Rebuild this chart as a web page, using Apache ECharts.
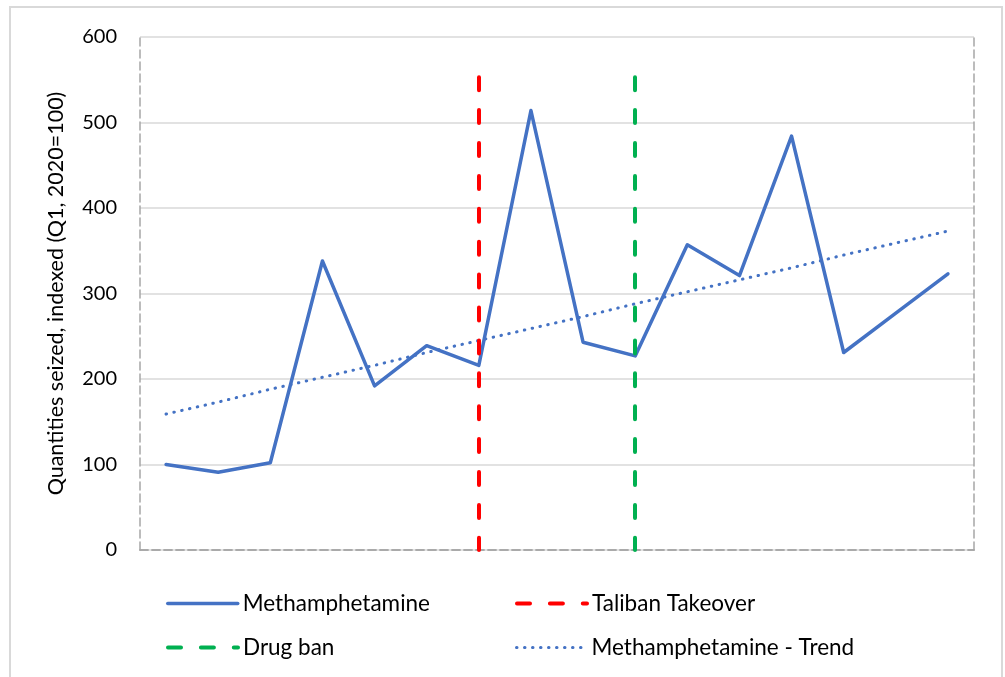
<!DOCTYPE html>
<html lang="en">
<head>
  <meta charset="UTF-8">
  <title>Methamphetamine seizures</title>
  <style>
    html,body{margin:0;padding:0;background:#fff;}
    #main{width:1005px;height:677px;}
  </style>
</head>
<body>
  <div id="main"></div>
  <script src="https://cdn.jsdelivr.net/npm/echarts@6/dist/echarts.min.js"></script>
  <script>
    const quarters=['Q1 2020','Q2 2020','Q3 2020','Q4 2020','Q1 2021','Q2 2021','Q3 2021','Q4 2021',
      'Q1 2022','Q2 2022','Q3 2022','Q4 2022','Q1 2023','Q2 2023','Q3 2023','Q4 2023'];
    const meth=[100,91,102,338,192,239,216,514,243,227,357,321,484,231,277,323];
    const trend=[159,173,188,202,216,231,245,259,273,288,302,316,330,345,359,373];
    const talibanAt='Q3 2021';
    const drugBanAt='Q2 2022';
    const eventTop=553;
    const yTicks=[0,100,200,300,400,500,600];

    const font='Lato, "Liberation Sans", sans-serif';
    const dashedFrame={show:true,lineStyle:{color:'#A6A6A6',width:1.5,type:[8,4]}};

    const methStyle={color:'#4472C4',width:3.5,cap:'round',join:'round'};
    const trendStyle={color:'#4472C4',width:3,type:[0.5,7.5],cap:'round'};
    const redStyle={color:'#FF0000',width:4,type:[13,19.9],cap:'round'};
    const greenStyle={color:'#00B050',width:4,type:[13,19.9],cap:'round'};

    const chart=echarts.init(document.getElementById('main'));

    // vertical event line as a markLine on an empty series (drawn top -> bottom)
    function eventSeries(name,at,style){
      return {
        name:name,
        type:'line',
        data:[],
        symbol:'none',
        lineStyle:style,
        itemStyle:{color:style.color},
        markLine:{
          silent:true,
          symbol:'none',
          label:{show:false},
          lineStyle:style,
          data:[[{coord:[at,eventTop]},{coord:[at,0]}]]
        }
      };
    }

    function legendAt(name,left,top,style){
      return {
        data:[name],
        left:left,
        top:top,
        itemWidth:70,
        itemHeight:14,
        lineStyle:style,
        itemStyle:{opacity:0},
        textStyle:{fontFamily:font,fontSize:22.5,color:'#000'}
      };
    }

    chart.setOption({
      animation:false,
      graphic:[{
        type:'rect',
        shape:{x:10,y:7,width:992,height:690},
        style:{fill:null,stroke:'#D9D9D9',lineWidth:2}
      }],
      grid:{left:140,right:31,top:37,bottom:127},
      legend:[
        legendAt('Methamphetamine',161,587,methStyle),
        legendAt('Taliban Takeover',510,587,redStyle),
        legendAt('Drug ban',161,631,greenStyle),
        legendAt('Methamphetamine - Trend',510,631,trendStyle)
      ],
      xAxis:[
        {type:'category',data:quarters,boundaryGap:true,
          axisLine:dashedFrame,axisTick:{show:false},axisLabel:{show:false}},
        {type:'category',data:quarters,position:'top',
          axisLine:dashedFrame,axisTick:{show:false},axisLabel:{show:false}}
      ],
      yAxis:[
        {type:'value',min:yTicks[0],max:yTicks[yTicks.length-1],interval:100,
          name:'Quantities seized, indexed (Q1, 2020=100)',
          nameLocation:'middle',nameGap:73,
          nameTextStyle:{fontFamily:font,fontSize:21.5,color:'#000'},
          axisLine:dashedFrame,axisTick:{show:false},
          axisLabel:{fontFamily:font,fontSize:20,color:'#000',margin:23},
          splitLine:{lineStyle:{color:'#D9D9D9',width:1.5}}},
        {type:'value',min:0,max:600,interval:100,position:'right',
          axisLine:dashedFrame,axisTick:{show:false},axisLabel:{show:false},splitLine:{show:false}}
      ],
      series:[
        {
          name:'Methamphetamine',
          type:'line',
          data:meth,
          symbol:'none',
          z:3,
          lineStyle:methStyle,
          itemStyle:{color:methStyle.color}
        },
        eventSeries('Taliban Takeover',talibanAt,redStyle),
        eventSeries('Drug ban',drugBanAt,greenStyle),
        {
          name:'Methamphetamine - Trend',
          type:'line',
          data:trend,
          symbol:'none',
          z:4,
          lineStyle:trendStyle,
          itemStyle:{color:trendStyle.color}
        }
      ]
    });
  </script>
</body>
</html>
